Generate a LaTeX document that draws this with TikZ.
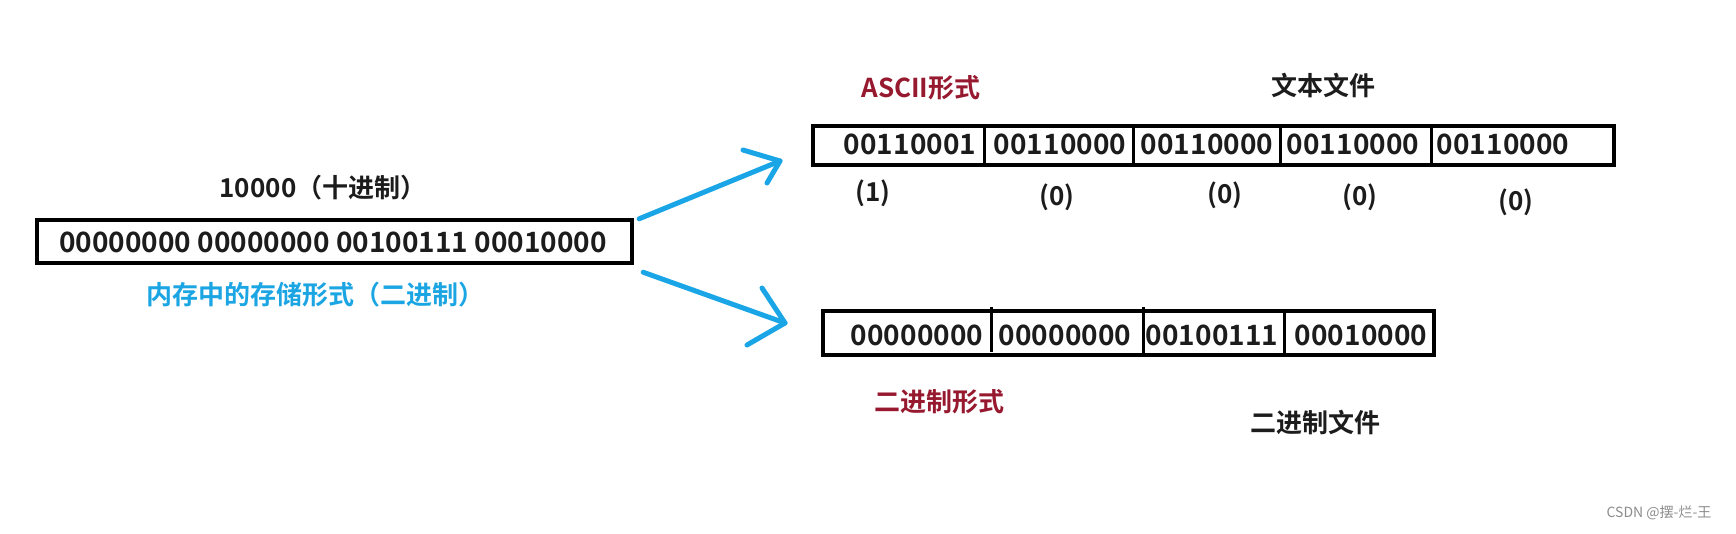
\documentclass[tikz,border=0pt]{standalone}
\usepackage{fontspec}
\newfontfamily\cjk{Noto Sans CJK SC}[UprightFont=* Bold]
\newfontfamily\cjkr{Noto Sans CJK SC}
\definecolor{arrowblue}{HTML}{1AA6E6}
\definecolor{labelblue}{HTML}{1BA5E3}
\definecolor{darkred}{HTML}{97192F}
\definecolor{ink}{HTML}{1C1C1C}
\tikzset{
  box/.style={draw=black, line width=4.5pt, inner sep=0pt, fill=none},
  bits/.style={inner sep=0pt, text=ink, font=\cjk\fontsize{28}{28}\selectfont},
  lbl/.style={inner sep=0pt, text=ink, font=\cjk\fontsize{26}{26}\selectfont},
  redlbl/.style={inner sep=0pt, text=darkred, font=\cjk\fontsize{26}{26}\selectfont},
  bluelbl/.style={inner sep=0pt, text=labelblue, font=\cjk\fontsize{26}{26}\selectfont},
  divider/.style={draw=black, line width=3pt},
  arr/.style={draw=arrowblue, line width=5pt, line cap=round, line join=round},
}
\begin{document}
\begin{tikzpicture}[x=1pt,y=-1pt]
\useasboundingbox[fill=white] (0,0) rectangle (1736,533);

% left memory box
\node[box, minimum width=595pt, minimum height=43pt] (mem) at (334.5,241.5) {};
\node[bits] (membits) at (333,242) {00000000 00000000 00100111 00010000};
\node[lbl] (dec) at (323,188) {10000（十进制）};
\node[bluelbl] (memlbl) at (315,295) {内存中的存储形式（二进制）};

% top (text file) box
\node[box, minimum width=801pt, minimum height=39pt] (txt) at (1213.5,145.5) {};
\foreach \x in {984,1133,1280,1431} \draw[divider] (\x,127) -- (\x,164);
\node[bits] (t1) at (910,144) {00110001};
\node[bits] (t2) at (1060,144) {00110000};
\node[bits] (t3) at (1207,144) {00110000};
\node[bits] (t4) at (1353,144) {00110000};
\node[bits] (t5) at (1503,144) {00110000};
\node[lbl] (c1) at (873,193) {(1)};
\node[lbl] (c2) at (1057,197) {(0)};
\node[lbl] (c3) at (1225,195) {(0)};
\node[lbl] (c4) at (1360,197) {(0)};
\node[lbl] (c5) at (1516,202) {(0)};
\node[redlbl] (ascii) at (921,88) {ASCII形式};
\node[lbl] (txtfile) at (1323,85) {文本文件};

% bottom (binary file) box
\node[box, minimum width=611pt, minimum height=44pt] (bin) at (1128.5,333) {};
\draw[divider] (991,307) -- (991,352);
\draw[divider] (1143,307) -- (1143,353);
\draw[divider] (1284,311) -- (1284,355);
\node[bits] (b1) at (917,335) {00000000};
\node[bits] (b2) at (1065,335) {00000000};
\node[bits] (b3) at (1212,335) {00100111};
\node[bits] (b4) at (1361,335) {00010000};
\node[redlbl] (binform) at (939,402) {二进制形式};
\node[lbl] (binfile) at (1315,422) {二进制文件};

% watermark
\node[inner sep=0pt, text=black!45, font=\cjkr\fontsize{14}{14}\selectfont] (wm) at (1659,513) {CSDN @摆-烂-王};

% arrows
\coordinate (tipA) at (780,161);
\coordinate (armA1) at (743,150);
\coordinate (armA2) at (767,183);
\coordinate (tipB) at (785,323);
\coordinate (armB1) at (762,288);
\coordinate (armB2) at (747,345);
\draw[arr] ([xshift=5pt,yshift=-1pt]mem.north east) -- (tipA);
\draw[arr] (armA1) -- (tipA) -- (armA2);
\draw[arr] ([xshift=9pt,yshift=-7pt]mem.south east) -- (tipB);
\draw[arr] (armB1) -- (tipB) -- (armB2);
\end{tikzpicture}
\end{document}
